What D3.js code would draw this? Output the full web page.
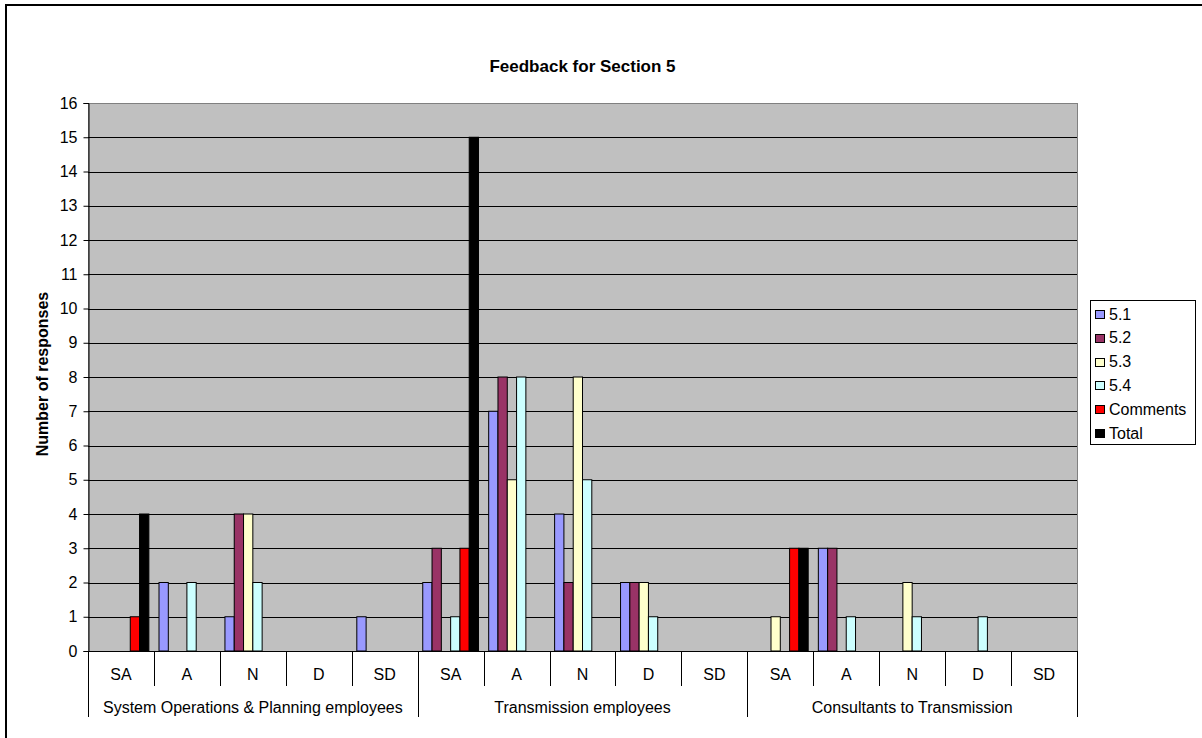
<!DOCTYPE html>
<html><head><meta charset="utf-8">
<script src="https://cdn.jsdelivr.net/npm/d3@7"></script>
<style>body{margin:0;background:#fff;overflow:hidden;} svg{display:block;font-family:"Liberation Sans",Arial,sans-serif;}</style>
</head><body>
<script>
const groups = ["System Operations & Planning employees", "Transmission employees", "Consultants to Transmission"];
const answers = ["SA", "A", "N", "D", "SD"];
const seriesNames = ["5.1", "5.2", "5.3", "5.4", "Comments", "Total"];
const seriesColors = ["#9999FF", "#993366", "#FFFFCC", "#CCFFFF", "#FF0000", "#000000"];
// values per category (group x answer), order SA A N D SD for each group
const s51 = [0, 2, 1, 0, 1,   2, 7, 4, 2, 0,   0, 3, 0, 0, 0];
const s52 = [0, 0, 4, 0, 0,   3, 8, 2, 2, 0,   0, 3, 0, 0, 0];
const s53 = [0, 0, 4, 0, 0,   0, 5, 8, 2, 0,   1, 0, 2, 0, 0];
const s54 = [0, 2, 2, 0, 0,   1, 8, 5, 1, 0,   0, 1, 1, 1, 0];
const sComments = [1, 0, 0, 0, 0,   3, 0, 0, 0, 0,   3, 0, 0, 0, 0];
const sTotal = [4, 0, 0, 0, 0,   15, 0, 0, 0, 0,   3, 0, 0, 0, 0];
const yTicks = [0, 1, 2, 3, 4, 5, 6, 7, 8, 9, 10, 11, 12, 13, 14, 15, 16];
const title = "Feedback for Section 5";
const yTitle = "Number of responses";

const seriesValues = [s51, s52, s53, s54, sComments, sTotal];
const categories = [];
groups.forEach((g, gi) => answers.forEach((a, ai) => categories.push({id: gi + "-" + a, group: g, answer: a, gi})));

const W = 1202, H = 738;
const svg = d3.select("body").append("svg").attr("width", W).attr("height", H);

// outer frame (right/bottom edges fall outside the picture)
svg.append("rect").attr("x", 6).attr("y", 5).attr("width", 1220).attr("height", 760)
  .attr("fill", "#fff").attr("stroke", "#000").attr("stroke-width", 2);

const L = 88, R = 1077, T = 103, B = 651;
const x0 = d3.scaleBand().domain(categories.map(c => c.id)).range([L, R]).padding(0);
const cw = x0.bandwidth();
const x1 = d3.scaleBand().domain(seriesNames).range([cw * 0.077, cw * 0.923]).padding(0);
const y = d3.scaleLinear().domain([0, 16]).range([B, T]);

// plot bg
svg.append("rect").attr("x", L + 0.5).attr("y", T + 0.5).attr("width", R - L).attr("height", B - T)
  .attr("fill", "#C0C0C0").attr("stroke", "#808080").attr("stroke-width", 1);

// gridlines
svg.append("g").selectAll("line").data(yTicks.filter(d => d > 0 && d < 16)).join("line")
  .attr("x1", L).attr("x2", R).attr("y1", d => Math.round(y(d)) + 0.5).attr("y2", d => Math.round(y(d)) + 0.5)
  .attr("stroke", "#000").attr("stroke-width", 1);

// bars
const barG = svg.append("g");
seriesNames.forEach((s, si) => {
  barG.append("g").selectAll("rect").data(categories.map((c, ci) => ({c, v: seriesValues[si][ci]})).filter(d => d.v > 0))
    .join("rect")
    .attr("x", d => x0(d.c.id) + x1(s))
    .attr("y", d => y(d.v))
    .attr("width", x1.bandwidth())
    .attr("height", d => y(0) - y(d.v))
    .attr("fill", seriesColors[si])
    .attr("stroke", "#000").attr("stroke-width", 1);
});

// y axis
const yAxis = d3.axisLeft(y).tickValues(yTicks).tickSize(5).tickPadding(6);
const ya = svg.append("g").attr("transform", `translate(${L + 0.5},0)`).call(yAxis);
ya.select(".domain").attr("stroke", "#000");
ya.selectAll("line").attr("stroke", "#000");
ya.selectAll("text").attr("font-size", 16).attr("fill", "#000").attr("font-family", "Liberation Sans, Arial, sans-serif");

// x axis line
svg.append("line").attr("x1", L).attr("x2", R).attr("y1", B + 0.5).attr("y2", B + 0.5).attr("stroke", "#000");

// category separators
const xa = svg.append("g");
categories.forEach((c, ci) => {
  const xs = Math.round(x0(c.id)) + 0.5;
  const isGroupStart = ci % answers.length === 0;
  xa.append("line").attr("x1", xs).attr("x2", xs).attr("y1", B).attr("y2", isGroupStart ? 717 : 686)
    .attr("stroke", "#000");
});
xa.append("line").attr("x1", R + 0.5).attr("x2", R + 0.5).attr("y1", B).attr("y2", 717).attr("stroke", "#000");

xa.selectAll("text.cat").data(categories).join("text").attr("class", "cat")
  .attr("x", d => x0(d.id) + cw / 2).attr("y", 674).attr("dy", "0.35em")
  .attr("text-anchor", "middle").attr("font-size", 16).text(d => d.answer);

xa.selectAll("text.grp").data(groups).join("text").attr("class", "grp")
  .attr("x", (g, gi) => {
    const a = x0(categories[gi * answers.length].id);
    const b = x0(categories[gi * answers.length + answers.length - 1].id) + cw;
    return (a + b) / 2;
  })
  .attr("y", 707).attr("dy", "0.35em").attr("text-anchor", "middle").attr("font-size", 16).text(g => g);

// title
svg.append("text").attr("x", (L + R) / 2).attr("y", 66).attr("dy", "0.35em").attr("text-anchor", "middle")
  .attr("font-size", 17).attr("font-weight", "bold").text(title);

// y title
svg.append("text").attr("transform", `translate(42,374) rotate(-90)`).attr("dy", "0.35em")
  .attr("text-anchor", "middle").attr("font-size", 16).attr("font-weight", "bold").text(yTitle);

// legend
const lg = svg.append("g");
lg.append("rect").attr("x", 1090.5).attr("y", 300.5).attr("width", 105).attr("height", 144)
  .attr("fill", "#fff").attr("stroke", "#000");
seriesNames.forEach((s, si) => {
  const cy = 314 + si * 23.8;
  lg.append("rect").attr("x", 1095.5).attr("y", Math.round(cy - 4) + 0.5).attr("width", 9).attr("height", 8)
    .attr("fill", seriesColors[si]).attr("stroke", "#000");
  lg.append("text").attr("x", 1109).attr("y", cy).attr("dy", "0.35em").attr("font-size", 16).text(s);
});
</script>
</body></html>
